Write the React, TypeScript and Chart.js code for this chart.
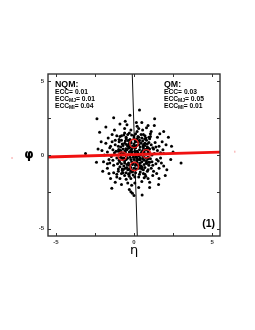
import React, { useEffect, useRef } from "react";
import { Chart, registerables } from "chart.js";

Chart.register(...registerables);

const axisMin = -5.5;
const axisMax = 5.5;
const tickValues = [-5, -2.5, 0, 2.5, 5];
const labeledTicks = [-5, 0, 5];

// scatter cloud (η, φ)
const cloudX = [
  0.35, -2.37, -1.3, 1.32, -0.26, -0.56, -3.1, 3.01, -1.42, 1.57, 0.52, -0.3, -0.2, -0.1, 0.0, -2.2, 2.4, 2.35, 2.1, -2.0, -2.3, 1.9, 2.2, -1.8, 0.9, 0.5, -0.9, 1.6, -1.5, 2.0, -2.4, 0.3, 1.0, -0.8, 2.5, -2.1, 1.3, 0.2,
  1.2, 1.5, 1.7, 1.4, 1.1, 0.7, 0.3, -0.2, -0.6, -1.0, -1.3, -1.6, -1.7, -1.5, -1.2, -0.8, -0.3, 0.2, 0.6, 1.0,
  1.8, 1.9, 1.6, 1.2, 0.5, -0.4, -1.1, -1.7, -1.9, -1.8, -1.4, -0.6, 0.3, 1.1, 1.5,
  1.3, 1.45, 1.25, 0.9, 0.1, -0.3, -0.9, -1.3, -1.45, -1.35, -1.1, -0.5, 0.0, 0.55, 1.35,
  1.6, 1.75, 0.85, 0.4, -0.75, -1.55, -1.2, -0.95, -0.15, 0.75, 1.05, 1.65, -1.65, -1.25, 0.05, 0.65, -0.5, 1.9, -1.95, 1.85,
  2.05, -2.05, 0.15, -0.45, 0.8, 1.0, -0.15, -1.2, 1.45, -1.6,
  0.1, -0.2, 0.4, -0.5, 0.6, -0.7, 0.3, -0.3, 0.8, -0.8, 0.2, -0.1, 0.5, -0.4, 0.0, 0.7, -0.6, 0.9, -0.9, 0.1, 0.0, 0.45, -0.45, 0.65, -0.65, 0.35, -0.35, 0.15, -0.15, 0.85, -0.85, 0.55, -0.55, 0.95, -0.95, 0.25, -0.25, 0.75, -0.75, 0.05,
  0.2, -0.55, 0.6, -0.1, 0.4, -0.3, 0.9, -0.85, 0.3, -0.2, 0.7, -0.6, 0.15, -0.05, 0.5, -0.4, 0.8, -0.7, 0.1, -0.15,
  1.0, -1.0, 0.35, -0.4, 0.95, -0.95, 0.6, -0.65, 1.05, -1.05, 0.2, -0.1, 0.05, 0.25, -0.3, 0.45, -0.5, 0.7, -0.2, 0.55,
  1.1, -1.1, 0.8, -0.8, 0.4, -0.45, 0.65, -0.25, 0.0, 0.3, -0.6, 0.15, -0.9, 0.9, -0.35, 1.15, -1.15, 0.5, -0.5, 0.0,
  -0.7, 0.65, -0.2, 0.35, 0.75, -0.85, 0.1, -0.05, 0.55, -0.45, 0.25, -0.3, 1.0, -1.0, 0.45, -0.15, 0.85, -0.75, 0.2, -0.55,
  0.25, -0.65, 1.15, -1.25, 0.6, -0.35, 0.95, -0.8, 1.4, -1.4, 0.1, -0.05, 0.75, -0.6, 1.25, -1.0, 0.45, -0.25, 1.55, -1.7, 0.35, -0.15, 0.85, -0.5, 1.05, -1.35, 0.5, -0.9, 1.7, -1.1, 0.05, -0.4, 0.7, -0.7, 1.2, -1.55, 0.3, -0.2, 0.95, -0.3,
  0.12, -0.32, 0.42, -0.52, 0.62, -0.72, 0.22, -0.12, 0.32, -0.42, 0.52, -0.62, 0.72, -0.82, 0.82, -0.22, 0.02, 0.92, -0.92, 0.18, -0.38, 0.58, -0.18, 0.38, -0.58, 0.78, -0.78, 0.08, -0.08, 0.48, -0.48, 0.68, -0.68, 0.28, -0.28, 0.88, -0.88, 0.98, -0.98, 0.14,
];
const cloudY = [
  3.05, 2.46, 2.53, 2.46, 2.7, 2.3, 0.11, -0.54, -2.25, -2.0, -2.71, -2.35, -2.5, -2.6, -2.75, 1.55, 0.6, -0.3, -1.0, -1.1, 0.4, 1.6, 1.2, 1.9, 2.0, 2.2, 2.1, -1.6, -1.6, -1.4, -0.5, -2.2, -2.2, -2.0, 0.2, 0.9, 2.0, 1.95,
  0.5, 0.3, -0.2, -0.6, -0.9, -1.3, -1.5, -1.6, -1.4, -1.1, -0.7, -0.3, 0.2, 0.6, 1.0, 1.3, 1.5, 1.6, 1.4, 1.1,
  0.9, 0.1, -0.9, -1.4, -1.8, -1.9, -1.5, -0.9, 0.0, 0.8, 1.4, 1.8, 1.8, 1.6, 1.2,
  0.1, -0.3, -1.1, -1.6, -1.2, -1.25, -1.6, -1.2, -0.1, 0.35, 1.3, 1.2, 1.3, 1.7, 0.85,
  0.6, -0.55, -1.1, -1.15, -1.05, -0.55, 0.7, 1.05, 1.35, 1.15, 1.45, 1.45, 1.15, 1.7, -1.9, -1.55, -1.65, -0.75, -0.45, 0.35,
  0.7, 0.3, 2.2, 2.05, 1.85, -1.85, -2.05, -1.85, -1.25, -1.25,
  0.1, 0.3, -0.2, -0.3, 0.5, 0.4, 0.7, -0.7, -0.4, -0.6, -0.5, 0.6, 0.1, 0.0, -0.3, 0.8, 0.8, 0.2, 0.1, 0.9, -0.9, -0.75, -0.85, -0.65, -0.2, 0.35, 0.45, -0.15, -0.45, 0.55, 0.55, 0.95, 0.95, -0.7, -0.35, 0.15, -0.15, 0.05, -0.95, 0.45,
  0.25, 0.2, -0.1, -0.65, 0.55, 0.8, -0.15, -0.15, -0.9, 0.95, -0.85, -0.55, 0.65, -0.15, -0.45, 0.6, 0.35, 0.05, -0.7, 0.15,
  0.4, 0.6, 1.0, -1.0, 0.85, 0.9, -1.0, -0.75, -0.25, -0.6, 1.1, -1.05, 0.25, -0.3, 0.2, 0.8, -0.05, 0.65, -0.85, 0.3,
  0.7, -0.2, 1.0, 1.0, -0.55, 0.35, -0.35, 0.55, 0.75, -0.05, -0.4, -0.95, -0.8, -1.0, -0.55, 0.0, 0.25, 1.15, 1.1, 1.15,
  0.65, 0.2, -0.3, -0.7, -0.2, 0.3, 0.5, -0.55, -0.25, -0.65, 0.9, -0.95, -0.5, -0.95, 0.0, 0.4, 0.75, 0.75, -0.2, -0.9,
  1.25, 1.35, -0.45, 0.15, -1.25, -1.3, 1.2, -1.25, 0.55, 0.9, 1.45, -1.35, -1.45, 1.5, 0.4, 0.25, 1.4, 1.05, -0.4, -0.6, -1.3, -1.15, 0.45, -1.2, 1.25, -0.35, -0.95, 1.25, 0.15, -1.3, -1.5, 1.4, 1.3, -1.2, -0.7, 0.5, 1.2, 1.7, -0.5, -1.45,
  -0.12, 0.68, -0.88, 0.42, 0.72, -0.32, -0.62, 0.22, 0.92, -0.22, -0.82, 0.12, 0.38, 0.18, -0.58, -1.08, 0.58, 0.48, -0.48, -0.38, 0.98, 0.62, 0.82, -0.32, 0.28, -0.52, -0.18, 1.02, -1.12, 0.18, 0.72, 1.08, -0.98, -0.72, 1.02, -0.28, 0.28, 0.08, 0.38, -0.62,
];

// red principal axis line (η, φ)
const redLineX = [-5.5, 5.5];
const redLineY = [-0.135, 0.195];
// black axis line
const blackLineX = [-0.11, 0.21];
const blackLineY = [5.5, -5.5];
// red circles
const circleX = [0.0, -0.75, 0.8, 0.02];
const circleY = [0.78, -0.07, 0.08, -0.78];

const nqmLines = [
  { main: "ECC", sub: "", val: "= 0.01" },
  { main: "ECC", sub: "MJ", val: "= 0.01" },
  { main: "ECC", sub: "MI", val: "= 0.04" },
];
const qmLines = [
  { main: "ECC", sub: "", val: "= 0.03" },
  { main: "ECC", sub: "MJ", val: "= 0.05" },
  { main: "ECC", sub: "MI", val: "= 0.01" },
];

const FONT = "'Liberation Sans', Arial, sans-serif";

const decorPlugin = {
  id: "decor",
  afterDatasetsDraw(chart: any) {
    const { ctx, chartArea: a, scales } = chart;
    const xs = scales.x;
    const ys = scales.y;
    ctx.save();
    // frame
    ctx.strokeStyle = "#333";
    ctx.lineWidth = 1.4;
    ctx.strokeRect(a.left, a.top, a.right - a.left, a.bottom - a.top);
    // inward ticks
    ctx.lineWidth = 1;
    const tl = 3;
    ctx.beginPath();
    tickValues.forEach((v) => {
      const px = Math.round(xs.getPixelForValue(v)) + 0.5;
      ctx.moveTo(px, a.bottom);
      ctx.lineTo(px, a.bottom - tl);
      ctx.moveTo(px, a.top);
      ctx.lineTo(px, a.top + tl);
      const py = Math.round(ys.getPixelForValue(v)) + 0.5;
      ctx.moveTo(a.left, py);
      ctx.lineTo(a.left + tl, py);
      ctx.moveTo(a.right, py);
      ctx.lineTo(a.right - tl, py);
    });
    ctx.stroke();

    // texts
    ctx.fillStyle = "#000";
    ctx.textBaseline = "alphabetic";
    ctx.textAlign = "left";
    const drawBlock = (x: number, title: string, lines: any[]) => {
      ctx.font = `bold 8.8px ${FONT}`;
      ctx.fillText(title, x, 87);
      lines.forEach((l, i) => {
        const y = 94.3 + i * 6.7;
        ctx.font = `bold 6.7px ${FONT}`;
        ctx.fillText(l.main, x, y);
        let cx = x + ctx.measureText(l.main).width;
        if (l.sub) {
          ctx.font = `bold 5px ${FONT}`;
          ctx.fillText(l.sub, cx, y + 1.3);
          cx += ctx.measureText(l.sub).width;
        }
        ctx.font = `bold 6.7px ${FONT}`;
        ctx.fillText(l.val, cx, y);
      });
    };
    drawBlock(a.left + 7, "NQM:", nqmLines);
    drawBlock(a.left + 116, "QM:", qmLines);

    ctx.font = `bold 10.5px ${FONT}`;
    ctx.textAlign = "right";
    ctx.fillText("(1)", a.right - 5, 227);

    // axis titles
    ctx.textAlign = "center";
    ctx.textBaseline = "middle";
    ctx.font = `13px 'DejaVu Sans', sans-serif`;
    ctx.fillText("η", xs.getPixelForValue(0), 251);
    ctx.font = `bold 12px 'DejaVu Sans', sans-serif`;
    ctx.fillText("φ", 29, ys.getPixelForValue(0));

    // faint red line remnants outside the frame
    ctx.strokeStyle = "rgba(240,60,60,0.5)";
    ctx.lineWidth = 1;
    const slope = (redLineY[1] - redLineY[0]) / (redLineX[1] - redLineX[0]);
    const fy = (x: number) => redLineY[0] + slope * (x - redLineX[0]);
    [-7.8, 6.45].forEach((xv) => {
      const px = xs.getPixelForValue(xv);
      const py = ys.getPixelForValue(fy(xv));
      ctx.beginPath();
      ctx.moveTo(px, py - 1);
      ctx.lineTo(px, py + 1);
      ctx.stroke();
    });
    ctx.restore();
  },
};

export default function App() {
  const ref = useRef<HTMLCanvasElement | null>(null);
  useEffect(() => {
    const canvas = ref.current;
    if (!canvas) return;
    const chart = new Chart(canvas, {
      type: "scatter",
      data: {
        datasets: [
          {
            type: "scatter",
            data: circleX.map((x, i) => ({ x, y: circleY[i] })),
            pointRadius: 4.2,
            pointBorderWidth: 1.4,
            borderColor: "#e8201f",
            backgroundColor: "rgba(0,0,0,0)",
          } as any,
          {
            type: "line",
            data: redLineX.map((x, i) => ({ x, y: redLineY[i] })),
            borderColor: "#f01010",
            borderWidth: 2.8,
            pointRadius: 0,
          } as any,
          {
            type: "scatter",
            data: cloudX.map((x, i) => ({ x, y: cloudY[i] })),
            pointRadius: 1.5,
            pointBorderWidth: 0,
            backgroundColor: "#000",
            borderColor: "#000",
          } as any,
          {
            type: "line",
            data: blackLineX.map((x, i) => ({ x, y: blackLineY[i] })),
            borderColor: "#111",
            borderWidth: 1,
            pointRadius: 0,
          } as any,
        ],
      },
      options: {
        responsive: false,
        animation: false,
        events: [],
        layout: { padding: { left: 0, right: 35, top: 74, bottom: 74 } },
        plugins: { legend: { display: false }, tooltip: { enabled: false } },
        scales: {
          x: {
            type: "linear",
            min: axisMin,
            max: axisMax,
            afterBuildTicks: (s: any) => {
              s.ticks = tickValues.map((v) => ({ value: v }));
            },
            afterFit: (s: any) => {
              s.height = 20;
            },
            grid: { display: false, drawTicks: false },
            border: { display: false },
            ticks: {
              padding: 3,
              maxRotation: 0,
              autoSkip: false,
              color: "#333",
              font: { size: 6, weight: "bold", family: FONT },
              callback: (v: any) => (labeledTicks.includes(Number(v)) ? String(v) : ""),
            },
          },
          y: {
            type: "linear",
            min: axisMin,
            max: axisMax,
            afterBuildTicks: (s: any) => {
              s.ticks = tickValues.map((v) => ({ value: v }));
            },
            afterFit: (s: any) => {
              s.width = 48;
            },
            grid: { display: false, drawTicks: false },
            border: { display: false },
            ticks: {
              padding: 4,
              autoSkip: false,
              color: "#333",
              font: { size: 6, weight: "bold", family: FONT },
              callback: (v: any) => (labeledTicks.includes(Number(v)) ? String(v) : ""),
            },
          },
        },
      } as any,
      plugins: [decorPlugin],
    });
    return () => chart.destroy();
  }, []);
  return (
    <canvas
      ref={ref}
      width={255}
      height={330}
      style={{ position: "fixed", left: 0, top: 0, width: 255, height: 330, background: "#fff" }}
    />
  );
}
